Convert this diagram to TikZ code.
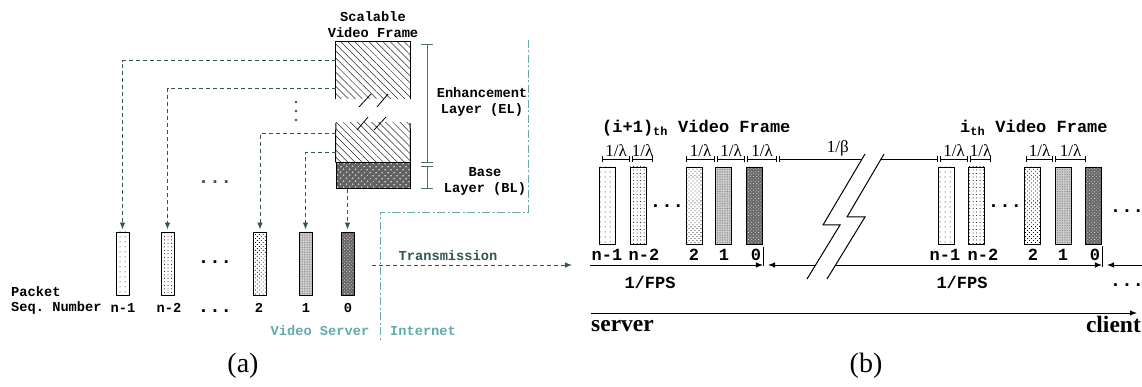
\documentclass[tikz,border=0pt]{standalone}
\usepackage{fontspec}
\setmainfont{Liberation Serif}
\setmonofont{Liberation Mono}
\usetikzlibrary{arrows.meta, patterns.meta}

\definecolor{dkteal}{RGB}{47,85,85}
\definecolor{ltteal}{RGB}{100,170,170}
\definecolor{brkgray}{RGB}{80,112,112}

\newcommand{\monoa}{\fontsize{13.7}{16}\selectfont\ttfamily\bfseries}
\newcommand{\monob}{\fontsize{17}{19}\selectfont\ttfamily\bfseries}

\begin{document}
\begin{tikzpicture}[x=1pt, y=-1pt, >={Latex[length=7pt,width=5.5pt]},
  pkta/.style={draw, line width=0.9pt, minimum width=13pt, minimum height=63pt, inner sep=0pt},
  pktb/.style={draw, line width=0.9pt, minimum width=16pt, minimum height=77pt, inner sep=0pt},
  pA/.style={pattern={Dots[distance=5pt,radius=0.5pt]}},
  pB/.style={pattern={Dots[distance=3.5pt,radius=0.5pt]}},
  pC/.style={pattern={Dots[distance=2.8pt,radius=0.55pt,angle=45]}},
  pD/.style={preaction={fill=black!18}, pattern={Dots[distance=1.7pt,radius=0.45pt]}, pattern color=black!55},
  pE/.style={preaction={fill=black!60}, pattern={Dots[distance=2.4pt,radius=0.6pt,angle=45]}, pattern color=black!15},
  elhatch/.style={pattern={Lines[angle=-45,distance=5pt,line width=0.5pt]}, pattern color=black!85},
  blfill/.style={preaction={fill=black!62}, pattern={Dots[distance=4pt,radius=1pt,angle=45]}, pattern color=black!20},
  ta/.style={font=\monoa, inner sep=0pt},
  tb/.style={font=\monob, inner sep=0pt},
  ell/.style={font=\fontsize{19}{19}\selectfont\ttfamily\bfseries, inner sep=0pt},
  lam/.style={font=\fontsize{17}{17}\selectfont, above=2pt, inner sep=0pt},
  conn/.style={dkteal, line width=0.9pt, dash pattern=on 4pt off 3pt, ->, shorten >=2pt},
  net/.style={ltteal, line width=0.9pt, dash pattern=on 8pt off 2.5pt on 2pt off 2.5pt},
  brk/.style={brkgray, line width=1pt, {Bar[width=12pt]}-{Bar[width=12pt]}},
  iv/.style={line width=0.9pt, {Bar[width=6pt]}-{Bar[width=6pt]}},
  fps/.style={line width=0.9pt}]
  \useasboundingbox (0,0) rectangle (1142,387);

  % --- (a) scalable frame: enhancement layer (with a break) over base layer
  \node[elhatch, minimum width=74pt, minimum height=57pt, inner sep=0pt] (elt) at (373,70.5) {};
  \node[elhatch, minimum width=74pt, minimum height=40pt, inner sep=0pt] (elb) at (373,143) {};
  \node[draw, line width=1pt, blfill, minimum width=74pt, minimum height=26pt, inner sep=0pt] (bl) at (373,176) {};
  \draw[line width=1pt] (elt.south west) -- (elt.north west) -- (elt.north east) -- (elt.south east);
  \draw[line width=1pt] (elb.north west) -- (bl.north west);
  \draw[line width=1pt] (elb.north east) -- (bl.north east);
  \draw[line width=0.8pt] (359,107) -- (371,94) (377,107) -- (388,94);
  \draw[line width=0.8pt] (357,130) -- (368,117) (374,130) -- (386,117);
  \node[ta, align=center] (title) at (373,25) {Scalable\\Video Frame};

  % layer brackets
  \draw[brk] (427,44) -- (427,163);
  \draw[brk] (427,166) -- (427,189);
  \node[ta, align=center] (ellbl) at (482,102) {Enhancement\\Layer (EL)};
  \node[ta, align=center] (bllbl) at (485,181) {Base\\Layer (BL)};

  % packets
  \node[pkta, pA] (an1) at (122.5,263.5) {};
  \node[pkta, pB] (an2) at (167.5,263.5) {};
  \node[pkta, pC] (a2) at (260,263.5) {};
  \node[pkta, pD] (a1) at (305.5,263.5) {};
  \node[pkta, pE] (a0) at (347.5,263.5) {};

  % packetization
  \draw[conn] ([yshift=-19pt]elt.north west) -| (an1);
  \draw[conn] ([yshift=-47pt]elt.north west) -| (an2);
  \draw[conn] ([yshift=-11pt]elb.north west) -| (a2);
  \draw[conn] ([yshift=-30pt]elb.north west) -| (a1);
  \draw[conn] (bl.south -| a0) -- (a0);
  \fill[dkteal] (296,102) circle (1.3pt) (296,111) circle (1.3pt) (296,120) circle (1.3pt);
  \node[ell, dkteal] (dtop) at (215,182) {...};
  \node[ell] (dmid) at (215,262) {...};

  % sequence numbers
  \node[ta, anchor=west] (pk) at (11,292) {Packet};
  \node[ta, anchor=west] (sq) at (11,308) {Seq. Number};
  \node[ta] (ln1) at (123,308) {n-1};
  \node[ta] (ln2) at (169,308) {n-2};
  \node[ell] (ldt) at (215,311) {...};
  \node[ta] (l2) at (259,308) {2};
  \node[ta] (l1) at (306,308) {1};
  \node[ta] (l0) at (348,308) {0};

  % server / internet boundary
  \draw[net] (528,40) -- (528,212) -- (380,212) -- (380,340);
  \node[ta, ltteal] (vs) at (320,331) {Video Server};
  \node[ta, ltteal] (inet) at (423,331) {Internet};
  \coordinate (txa) at (372,265);
  \coordinate (txb) at (572,265);
  \draw[conn, shorten >=0pt] (txa) -- node[ta, dkteal, pos=0.38, above=4pt] (txl) {Transmission} (txb);
  \node[font=\fontsize{28}{28}\selectfont] (capa) at (243,366) {(a)};

  % --- (b) two frames on the time line
  \node[tb, anchor=west] (fr1) at (602,128) {(i+1)\textsubscript{th} Video Frame};
  \node[tb, anchor=west] (fr2) at (960,128) {i\textsubscript{th} Video Frame};

  \node[pktb, pA] (bn1) at (607,205.5) {};
  \node[pktb, pB] (bn2) at (638,205.5) {};
  \node[pktb, pC] (b2) at (694,205.5) {};
  \node[pktb, pD] (b1) at (723.5,205.5) {};
  \node[pktb, pE] (b0) at (754.5,205.5) {};
  \node[pktb, pA] (cn1) at (946,205.5) {};
  \node[pktb, pB] (cn2) at (976.5,205.5) {};
  \node[pktb, pC] (c2) at (1032.5,205.5) {};
  \node[pktb, pD] (c1) at (1063,205.5) {};
  \node[pktb, pE] (c0) at (1093.5,205.5) {};
  \node[ell] (bd1) at (667,206) {...};
  \node[ell] (bd2) at (1005,206) {...};
  \node[ell] (bd3) at (1127,211) {...};
  \node[ell] (bd4) at (1127,285) {...};

  \node[tb] (bl1) at (607,255) {n-1};
  \node[tb] (bl2) at (644,255) {n-2};
  \node[tb] (bl3) at (694,255) {2};
  \node[tb] (bl4) at (724,255) {1};
  \node[tb] (bl5) at (756,255) {0};
  \node[tb] (cl1) at (945,255) {n-1};
  \node[tb] (cl2) at (983,255) {n-2};
  \node[tb] (cl3) at (1033,255) {2};
  \node[tb] (cl4) at (1063,255) {1};
  \node[tb] (cl5) at (1095,255) {0};

  % packet spacing
  \draw[iv] (602,159) -- node[lam] {1/λ} (630,159);
  \draw[iv] (632,159) -- node[lam] {1/λ} (653,159);
  \draw[iv] (686,159) -- node[lam] {1/λ} (715,159);
  \draw[iv] (717,159) -- node[lam] {1/λ} (745,159);
  \draw[iv] (747,159) -- node[lam] {1/λ} (777,159);
  \draw[iv] (779,159) -- node[lam, pos=0.37] {1/β} (938,159);
  \draw[iv] (940,159) -- node[lam] {1/λ} (968,159);
  \draw[iv] (970,159) -- node[lam] {1/λ} (991,159);
  \draw[iv] (1026,159) -- node[lam] {1/λ} (1053,159);
  \draw[iv] (1055,159) -- node[lam] {1/λ} (1086,159);

  % frame periods
  \coordinate (fa) at (590,265);
  \coordinate (fb) at (768,265);
  \coordinate (fc) at (1107,265);
  \coordinate (fd) at (1142,265);
  \draw[fps, ->] (fa) -- (fa -| b0.east);
  \draw[fps, <->] (fb) -- (fb -| c0.east);
  \draw[fps, <-] (fc) -- (fd);
  \draw[fps] ([yshift=-3pt]b0.south east) -- ++(0,19);
  \draw[fps] ([yshift=-2pt]c0.south east) -- ++(0,21);
  \node[tb] (fp1) at (650,282) {1/FPS};
  \node[tb] (fp2) at (962,282) {1/FPS};

  % time break
  \fill[white] (865,154) -- (823,225) -- (840,225) -- (807,279) -- (827,279) -- (865,217) -- (847,217) -- (884,154) -- cycle;
  \draw[line width=1pt] (865,154) -- (823,225) -- (840,225) -- (807,279);
  \draw[line width=1pt] (884,154) -- (847,217) -- (865,217) -- (827,279);

  % server to client
  \coordinate (sv) at (591,313);
  \coordinate (cl) at (1137,313);
  \draw[line width=1pt, ->] (sv) -- (cl);
  \node[font=\fontsize{23.5}{24}\selectfont\bfseries, anchor=base west, inner sep=0pt] (svl) at (591,331) {server};
  \node[font=\fontsize{23.5}{24}\selectfont\bfseries, anchor=base east, inner sep=0pt] (cll) at (1141,332) {client};
  \node[font=\fontsize{28}{28}\selectfont] (capb) at (866,366) {(b)};
\end{tikzpicture}
\end{document}
